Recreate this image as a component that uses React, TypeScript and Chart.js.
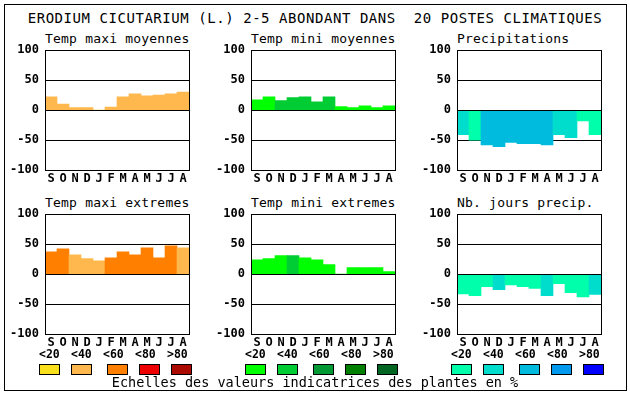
import React, { useEffect, useRef } from "react";
import { Chart, registerables } from "chart.js";

Chart.register(...registerables);

// ---------- data ----------
const chartTitle = "ERODIUM CICUTARIUM (L.) 2-5 ABONDANT DANS  20 POSTES CLIMATIQUES";
const months = ["S", "O", "N", "D", "J", "F", "M", "A", "M", "J", "J", "A"];
const yMin = -100;
const yMax = 100;
const yStep = 50;
const scaleLabels = ["<20", "<40", "<60", "<80", ">80"];
const footerText = "Echelles des valeurs indicatrices des plantes en %";

const tempMaxiMoyennes = [22, 10, 4, 4, 0, 5, 22, 27, 24, 25, 27, 30];
const tempMaxiMoyennesClass = [1, 1, 1, 1, 1, 1, 1, 1, 1, 1, 1, 1];

const tempMiniMoyennes = [17, 22, 16, 21, 22, 14, 22, 6, 4, 7, 4, 7];
const tempMiniMoyennesClass = [0, 0, 1, 1, 1, 1, 1, 0, 0, 0, 0, 0];

const precipitations = [-41, -50, -58, -61, -54, -56, -56, -58, -41, -46, -18, -41];
const precipitationsClass = [1, 0, 2, 2, 2, 2, 2, 2, 1, 1, 0, 0];

const tempMaxiExtremes = [37, 42, 32, 26, 22, 27, 37, 32, 44, 27, 47, 44];
const tempMaxiExtremesClass = [2, 2, 1, 1, 1, 2, 2, 2, 2, 2, 2, 1];

const tempMiniExtremes = [24, 26, 31, 31, 27, 24, 16, 0, 11, 11, 11, 4];
const tempMiniExtremesClass = [0, 0, 0, 1, 0, 0, 0, 0, 0, 0, 0, 0];

const joursPrecip = [-33, -36, -21, -26, -18, -21, -24, -36, -16, -31, -38, -34];
const joursPrecipClass = [0, 0, 0, 1, 0, 0, 0, 1, 0, 0, 0, 1];

const tempPalette = ["#F8E11C", "#FFB84D", "#FF8000", "#EE0000", "#AA0A00"];
const greenPalette = ["#00FF00", "#00CC33", "#009933", "#007F00", "#006622"];
const bluePalette = ["#00FFAA", "#00DDCC", "#00BBDD", "#0099EE", "#0000FF"];

// ---------- layout ----------
const FONT = '"DejaVu Sans Mono", "Liberation Mono", monospace';
const AXIS_W = 40;
const PAD_T = 10;
const PAD_R = 4;
const AXIS_H = 22;
const PLOT_W = 144;
const PLOT_H = 120;
const COLS = [45, 251, 457];
const ROWS = [50, 214];

const align = (p: number) => Math.round(p - 0.5) + 0.5;

const framePlugin = {
  id: "frame",
  afterDatasetsDraw(chart: any) {
    const { ctx, chartArea: a, scales } = chart;
    const y0 = align(scales.y.getPixelForValue(0));
    const l = align(a.left);
    const r = align(a.right);
    const t = align(a.top);
    const b = align(a.bottom);
    ctx.save();
    ctx.strokeStyle = "#000";
    ctx.lineWidth = 1;
    ctx.beginPath();
    ctx.moveTo(l, y0);
    ctx.lineTo(r, y0);
    ctx.moveTo(l, t - 0.5);
    ctx.lineTo(l, b + 0.5);
    ctx.moveTo(r, t - 0.5);
    ctx.lineTo(r, b + 0.5);
    ctx.stroke();
    ctx.restore();
  },
};

type PanelProps = {
  col: number;
  row: number;
  title: string;
  values: number[];
  classes: number[];
  palette: string[];
};

function Panel({ col, row, title, values, classes, palette }: PanelProps) {
  const ref = useRef<HTMLCanvasElement>(null);
  const W = AXIS_W + PLOT_W + PAD_R;
  const H = PAD_T + PLOT_H + AXIS_H;
  const left = COLS[col];
  const top = ROWS[row];

  useEffect(() => {
    const canvas = ref.current as HTMLCanvasElement;
    const chart = new Chart(canvas, {
      type: "bar",
      data: {
        labels: months,
        datasets: [
          {
            data: values,
            backgroundColor: classes.map((c) => palette[c]),
            borderWidth: 0,
            barPercentage: 1,
            categoryPercentage: 1,
          },
        ],
      },
      options: {
        animation: false,
        responsive: false,
        maintainAspectRatio: false,
        events: [],
        layout: { padding: { top: PAD_T, right: PAD_R, left: 0, bottom: 0 } },
        plugins: {
          legend: { display: false },
          tooltip: { enabled: false },
          title: { display: false },
        },
        scales: {
          x: {
            grid: { display: false, drawTicks: false },
            border: { display: false },
            ticks: {
              color: "#000",
              font: { family: FONT, size: 12, weight: "bold" },
              padding: 2,
              autoSkip: false,
              maxRotation: 0,
              minRotation: 0,
            },
            afterFit: (s: any) => {
              s.height = AXIS_H;
            },
          },
          y: {
            min: yMin,
            max: yMax,
            ticks: {
              stepSize: yStep,
              color: "#000",
              font: { family: FONT, size: 12, weight: "bold" },
              padding: 6,
            },
            grid: { color: "#000", lineWidth: 1, drawTicks: false },
            border: { display: false },
            afterFit: (s: any) => {
              s.width = AXIS_W;
            },
          },
        },
      } as any,
      plugins: [framePlugin],
    });
    let a = chart.chartArea;
    const dw = PLOT_W - (a.right - a.left);
    const dh = PLOT_H - (a.bottom - a.top);
    if (Math.abs(dw) > 0.01 || Math.abs(dh) > 0.01) {
      chart.resize(Math.round(W + dw), Math.round(H + dh));
      a = chart.chartArea;
    }
    canvas.style.left = left - Math.round(a.left) + "px";
    canvas.style.top = top - Math.round(a.top) + "px";
    return () => chart.destroy();
  }, []);

  return (
    <>
      <div
        style={{
          position: "absolute",
          left: left,
          top: top - 18,
          fontFamily: FONT,
          fontSize: 13,
          lineHeight: "13px",
          letterSpacing: "0.2px",
          whiteSpace: "pre",
          color: "#000",
        }}
      >
        {title}
      </div>
      <canvas
        ref={ref}
        width={W}
        height={H}
        style={{ position: "absolute", left: left - AXIS_W, top: top - PAD_T, width: W, height: H }}
      />
    </>
  );
}

const labelLefts = [39, 71, 103, 135, 167];
const boxLefts = [39, 71, 107, 139, 171];
const GROUP_OFFSETS = [0, 206, 412];
const groupPalettes = [tempPalette, greenPalette, bluePalette];

export default function App() {
  return (
    <div
      style={{
        position: "fixed",
        left: 0,
        top: 0,
        width: 630,
        height: 394,
        background: "#fff",
        overflow: "hidden",
      }}
    >
      <div
        style={{
          position: "absolute",
          left: 4,
          top: 4,
          width: 623,
          height: 387,
          border: "1px solid #000",
          boxSizing: "border-box",
        }}
      />
      <div
        style={{
          position: "absolute",
          left: 0,
          width: 630,
          top: 11,
          textAlign: "center",
          fontFamily: FONT,
          fontSize: 14,
          lineHeight: "14px",
          letterSpacing: "0.55px",
          whiteSpace: "pre",
          color: "#000",
        }}
      >
        {chartTitle}
      </div>

      <Panel col={0} row={0} title="Temp maxi moyennes" values={tempMaxiMoyennes} classes={tempMaxiMoyennesClass} palette={tempPalette} />
      <Panel col={1} row={0} title="Temp mini moyennes" values={tempMiniMoyennes} classes={tempMiniMoyennesClass} palette={greenPalette} />
      <Panel col={2} row={0} title="Precipitations" values={precipitations} classes={precipitationsClass} palette={bluePalette} />
      <Panel col={0} row={1} title="Temp maxi extremes" values={tempMaxiExtremes} classes={tempMaxiExtremesClass} palette={tempPalette} />
      <Panel col={1} row={1} title="Temp mini extremes" values={tempMiniExtremes} classes={tempMiniExtremesClass} palette={greenPalette} />
      <Panel col={2} row={1} title="Nb. jours precip." values={joursPrecip} classes={joursPrecipClass} palette={bluePalette} />

      {GROUP_OFFSETS.map((off, g) => (
        <React.Fragment key={g}>
          {scaleLabels.map((lab, i) => (
            <div
              key={"l" + i}
              style={{
                position: "absolute",
                left: off + labelLefts[i],
                width: 20,
                top: 348,
                textAlign: "center",
                fontFamily: FONT,
                fontSize: 11.5,
                fontWeight: "bold",
                lineHeight: "12px",
                whiteSpace: "pre",
                color: "#000",
              }}
            >
              {lab}
            </div>
          ))}
          {groupPalettes[g].map((c, i) => (
            <div
              key={"b" + i}
              style={{
                position: "absolute",
                left: off + boxLefts[i],
                top: 364,
                width: 21,
                height: 11,
                background: c,
                border: "1px solid #000",
                boxSizing: "border-box",
              }}
            />
          ))}
        </React.Fragment>
      ))}

      <div
        style={{
          position: "absolute",
          left: 0,
          width: 630,
          top: 375,
          textAlign: "center",
          fontFamily: FONT,
          fontSize: 13.5,
          lineHeight: "14px",
          whiteSpace: "pre",
          color: "#000",
        }}
      >
        {footerText}
      </div>
    </div>
  );
}
